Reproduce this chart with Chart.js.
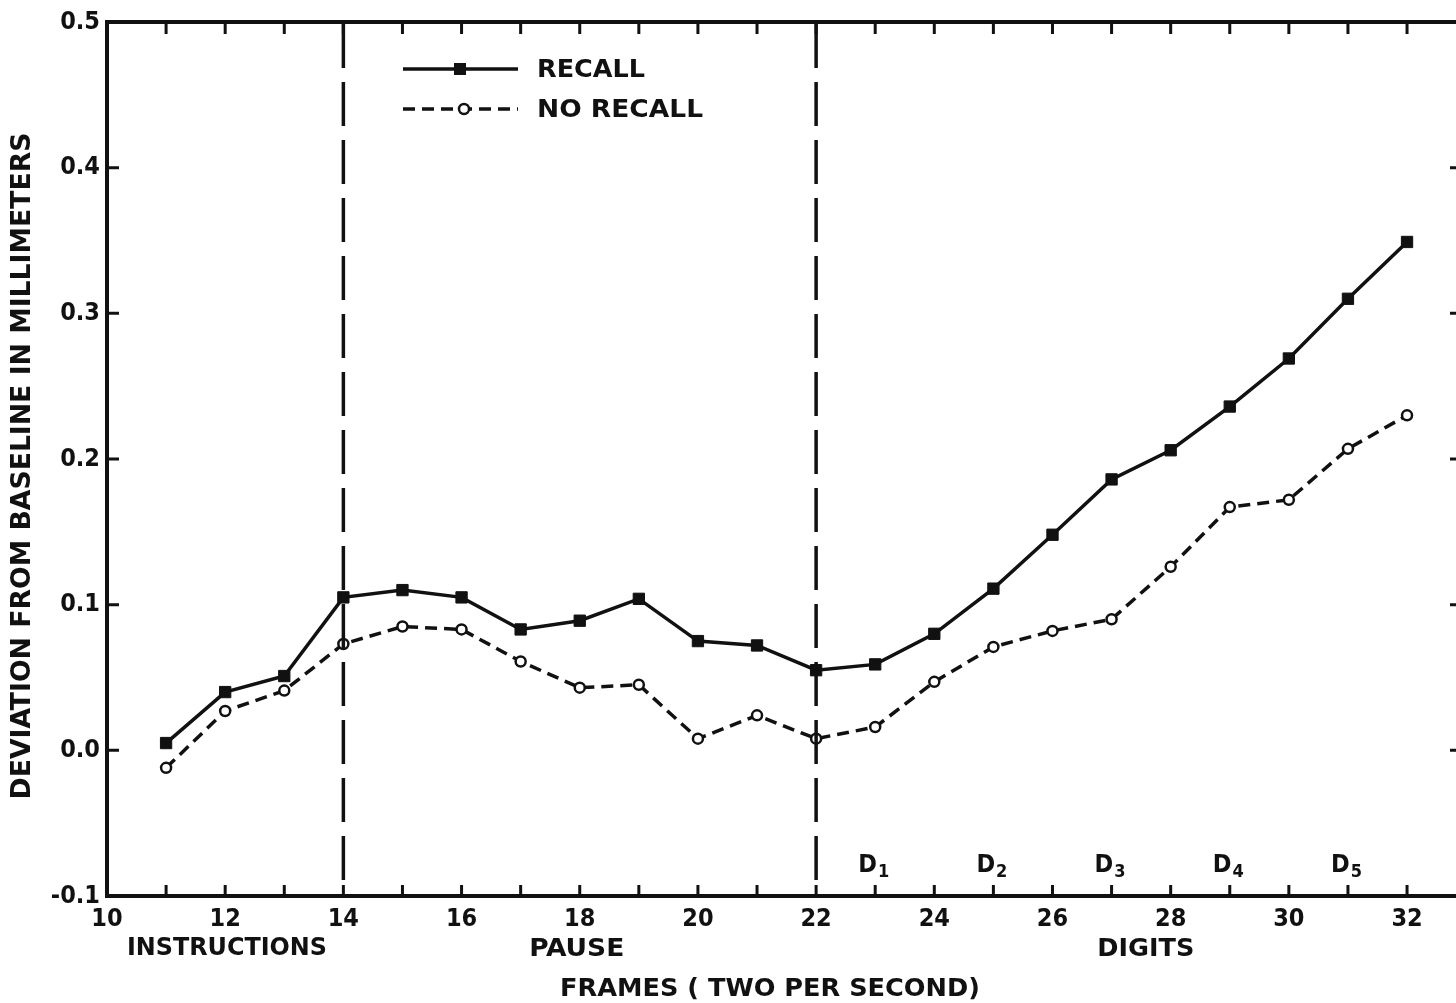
<!DOCTYPE html>
<html>
<head>
<meta charset="utf-8">
<script src="https://cdn.jsdelivr.net/npm/chart.js@4/dist/chart.umd.min.js"></script>
<style>
html, body { margin: 0; padding: 0; overflow: hidden; background: #fff; }
#wrap { width: 1480px; height: 1003px; }
</style>
</head>
<body>
<div id="wrap"><canvas id="c" width="1480" height="1003"></canvas></div>
<script>
// ---- data ----
const frames = [11,12,13,14,15,16,17,18,19,20,21,22,23,24,25,26,27,28,29,30,31,32];
const recall = [0.005,0.040,0.051,0.105,0.110,0.105,0.083,0.089,0.104,0.075,0.072,0.055,0.059,0.080,0.111,0.148,0.186,0.206,0.236,0.269,0.310,0.349];
const noRecall = [-0.012,0.027,0.041,0.073,0.085,0.083,0.061,0.043,0.045,0.008,0.024,0.008,0.016,0.047,0.071,0.082,0.090,0.126,0.167,0.172,0.207,0.230];
const seriesNames = ['RECALL', 'NO RECALL'];
const phaseBoundaries = [14, 22];
const phaseLabels = ['INSTRUCTIONS', 'PAUSE', 'DIGITS'];
const phaseLabelCenters = [12.03, 17.95, 27.58];
const digitLabels = ['1','2','3','4','5'];
const digitFrames = [23, 25, 27, 29, 31];
const xTitle = 'FRAMES ( TWO PER SECOND)';
const yTitle = 'DEVIATION FROM BASELINE IN MILLIMETERS';

const INK = '#111';
const FONT = '"DejaVu Sans Condensed", "DejaVu Sans", "Liberation Sans", sans-serif';
const WEIGHT = 'bold';

function fitText(ctx, text, cx, cy, size, targetW, rotate) {
  ctx.save();
  ctx.font = WEIGHT + ' ' + size + 'px ' + FONT;
  const w = ctx.measureText(text).width;
  ctx.translate(cx, cy);
  if (rotate) ctx.rotate(-Math.PI / 2);
  ctx.scale(targetW / w, 1);
  ctx.textAlign = 'center';
  ctx.textBaseline = 'middle';
  ctx.fillStyle = INK;
  ctx.fillText(text, 0, 0);
  ctx.restore();
}

const decor = {
  id: 'decor',
  afterDraw(chart) {
    const ctx = chart.ctx;
    const a = chart.chartArea;
    const xs = chart.scales.x, ys = chart.scales.y;
    ctx.save();
    // frame
    ctx.strokeStyle = INK;
    ctx.lineWidth = 4;
    ctx.strokeRect(a.left, a.top, a.right - a.left, a.bottom - a.top);
    // x ticks (inward, top and bottom)
    ctx.lineWidth = 3;
    xs.ticks.forEach(t => {
      const v = t.value;
      if (v <= xs.min || v >= xs.max) return;
      const px = xs.getPixelForValue(v);
      ctx.beginPath();
      ctx.moveTo(px, a.bottom); ctx.lineTo(px, a.bottom - 11);
      ctx.moveTo(px, a.top); ctx.lineTo(px, a.top + 12);
      ctx.stroke();
    });
    ys.ticks.forEach(t => {
      const v = t.value;
      if (v <= ys.min + 1e-9 || v >= ys.max - 1e-9) return;
      const py = ys.getPixelForValue(v);
      ctx.beginPath();
      ctx.moveTo(a.left, py); ctx.lineTo(a.left + 12, py);
      ctx.moveTo(a.right, py); ctx.lineTo(a.right - 12, py);
      ctx.stroke();
    });
    // vertical dashed phase boundaries
    ctx.lineWidth = 3.5;
    ctx.setLineDash([44, 14]);
    phaseBoundaries.forEach(v => {
      const px = xs.getPixelForValue(v);
      ctx.beginPath();
      ctx.moveTo(px, a.top + 2);
      ctx.lineTo(px, a.bottom);
      ctx.stroke();
    });
    ctx.setLineDash([]);

    // phase labels
    fitText(ctx, phaseLabels[0], xs.getPixelForValue(phaseLabelCenters[0]), 948, 25, 200);
    fitText(ctx, phaseLabels[1], xs.getPixelForValue(phaseLabelCenters[1]), 949, 25, 95);
    fitText(ctx, phaseLabels[2], xs.getPixelForValue(phaseLabelCenters[2]), 949, 25, 97);
    // axis titles
    fitText(ctx, xTitle, 770, 989, 25, 420);
    fitText(ctx, yTitle, 23, 466, 26, 667, true);

    // digit labels D1..D5
    ctx.fillStyle = INK;
    ctx.textBaseline = 'alphabetic';
    ctx.textAlign = 'left';
    digitFrames.forEach((f, i) => {
      const px = xs.getPixelForValue(f);
      ctx.font = WEIGHT + ' 25px ' + FONT;
      ctx.fillText('D', px - 17, 872);
      const dw = ctx.measureText('D').width;
      ctx.font = WEIGHT + ' 18px ' + FONT;
      ctx.fillText(digitLabels[i], px - 17 + dw + 1, 877);
    });

    // legend
    const lx0 = 403, lx1 = 518;
    ctx.strokeStyle = INK;
    ctx.lineWidth = 3.5;
    ctx.beginPath(); ctx.moveTo(lx0, 69); ctx.lineTo(lx1, 69); ctx.stroke();
    ctx.fillStyle = INK;
    ctx.fillRect(460 - 6, 69 - 6, 12, 12);
    ctx.setLineDash([12, 7]);
    ctx.beginPath(); ctx.moveTo(lx0, 109); ctx.lineTo(lx1, 109); ctx.stroke();
    ctx.setLineDash([]);
    ctx.beginPath(); ctx.arc(464, 109, 5, 0, Math.PI * 2);
    ctx.fillStyle = '#fff'; ctx.fill();
    ctx.lineWidth = 2.5; ctx.stroke();
    ctx.restore();
    fitText(ctx, seriesNames[0], 537 + 108 / 2, 70, 25, 108);
    fitText(ctx, seriesNames[1], 537 + 166 / 2, 110, 25, 166);
  }
};

const ctx = document.getElementById('c').getContext('2d');
new Chart(ctx, {
  type: 'line',
  data: {
    datasets: [
      {
        label: seriesNames[0],
        data: frames.map((f, i) => ({ x: f, y: recall[i] })),
        borderColor: INK,
        borderWidth: 3.5,
        pointStyle: 'rect',
        pointRadius: 8,
        pointBackgroundColor: INK,
        pointBorderColor: INK,
        pointBorderWidth: 1,
        tension: 0
      },
      {
        label: seriesNames[1],
        data: frames.map((f, i) => ({ x: f, y: noRecall[i] })),
        borderColor: INK,
        borderWidth: 3.5,
        borderDash: [12, 7],
        pointStyle: 'circle',
        pointRadius: 5,
        pointBackgroundColor: '#fff',
        pointBorderColor: INK,
        pointBorderWidth: 2.5,
        tension: 0
      }
    ]
  },
  options: {
    responsive: false,
    animation: false,
    devicePixelRatio: 1,
    layout: { padding: { top: 19, right: 18, left: 0, bottom: 0 } },
    plugins: { legend: { display: false }, tooltip: { enabled: false } },
    scales: {
      x: {
        type: 'linear',
        min: 10,
        max: 32.93,
        grid: { display: false, drawTicks: false },
        border: { display: false },
        ticks: {
          stepSize: 1,
          includeBounds: false,
          autoSkip: false,
          maxRotation: 0,
          padding: 8,
          color: INK,
          font: { family: FONT, size: 25, weight: WEIGHT },
          callback: (v) => (Number.isInteger(v) && v % 2 === 0) ? String(v) : ''
        },
        afterFit: (s) => { s.height = 107; }
      },
      y: {
        type: 'linear',
        min: -0.1,
        max: 0.5,
        grid: { display: false, drawTicks: false },
        border: { display: false },
        ticks: {
          stepSize: 0.1,
          padding: 7,
          color: INK,
          font: { family: FONT, size: 25, weight: WEIGHT },
          callback: (v) => (Math.round(v * 10) / 10).toFixed(1)
        },
        afterFit: (s) => { s.width = 107; }
      }
    }
  },
  plugins: [decor]
});
</script>
</body>
</html>
